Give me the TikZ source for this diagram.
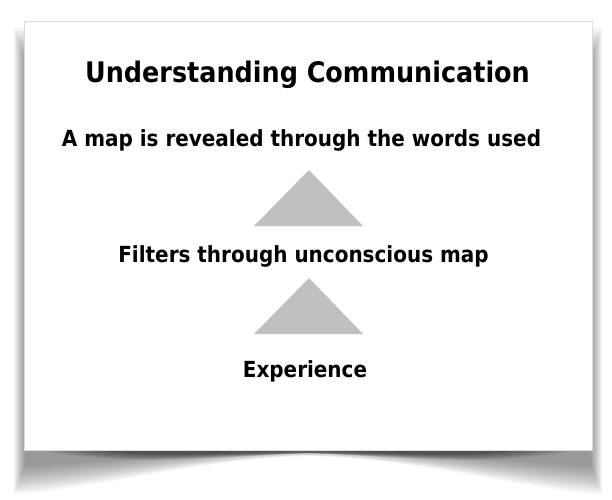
\documentclass[tikz,border=0pt]{standalone}
\usepackage{fontspec}
\setmainfont{DejaVu Sans Condensed}[BoldFont={DejaVu Sans Condensed Bold}]
\begin{document}
\begin{tikzpicture}[x=1pt,y=-1pt,
  lbl/.style={anchor=base,inner sep=0pt,font=\bfseries\fontsize{22.2}{26}\selectfont,text=black},
  ttl/.style={anchor=base,inner sep=0pt,font=\bfseries\fontsize{28.3}{32}\selectfont,text=black},
  tri/.style={fill=triGray,draw=none}]
\definecolor{triGray}{HTML}{C0C0C0}
\definecolor{cardEdge}{HTML}{DCDCDC}
\useasboundingbox (0,0) rectangle (612,499);
\fill[white] (0,0) rectangle (612,499);
% soft shadow
\foreach \i in {0,...,11}{
  \fill[black,opacity=0.04] (14+\i,28+3*\i) -- (14+\i,494-2.5*\i)
    .. controls (90,490-2.5*\i) and (200,458-0.5*\i) .. (309,456-0.5*\i)
    .. controls (418,458-0.5*\i) and (528,490-2.5*\i) .. (602-\i,494-2.5*\i)
    -- (602-\i,28+3*\i) -- cycle;
}
% darker band right under the card
\foreach \j in {0,...,7}{
  \fill[black,opacity=0.07] (40+10*\j,450)
    .. controls (120,467-1.5*\j) and (220,457-0.5*\j) .. (309,453)
    .. controls (398,457-0.5*\j) and (496,467-1.5*\j) .. (576-10*\j,450) -- cycle;
}
% card
\fill[white] (24,21) rectangle (592,450);
\draw[cardEdge,line width=0.8pt] (24,21) rectangle (592,450);
% texts
\node[ttl] (title) at (307.5,82) {Understanding Communication};
\node[lbl] (words) at (301.5,146.5) {A map is revealed through the words used};
\node[lbl] (filters) at (303.5,262) {Filters through unconscious map};
\node[lbl] (exp) at (305,377) {Experience};
% triangles
\coordinate (t1a) at (309,170);
\coordinate (t1l) at (254,226);
\coordinate (t1r) at (363,226);
\coordinate (t2a) at (309,278);
\coordinate (t2l) at (254,334);
\coordinate (t2r) at (363,334);
\fill[tri] (t1a) -- (t1r) -- (t1l) -- cycle;
\fill[tri] (t2a) -- (t2r) -- (t2l) -- cycle;
\end{tikzpicture}
\end{document}
